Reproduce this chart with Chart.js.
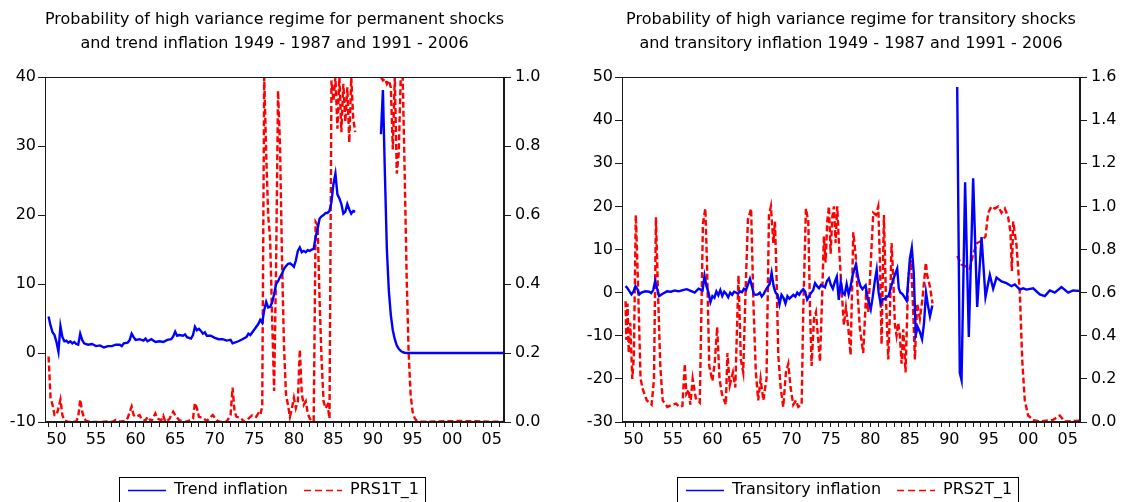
<!DOCTYPE html>
<html>
<head>
<meta charset="utf-8">
<script src="https://cdn.jsdelivr.net/npm/chart.js@4"></script>
<style>
  html, body { margin: 0; padding: 0; background: #fff; }
  #wrap { position: relative; width: 1122px; height: 502px; overflow: hidden; }
  .panel { position: absolute; top: 0; width: 561px; height: 502px; }
  #p1 { left: 0; }
  #p2 { left: 561px; }
</style>
</head>
<body>
<div id="wrap">
  <div class="panel" id="p1"><canvas id="c1" width="561" height="502"></canvas></div>
  <div class="panel" id="p2"><canvas id="c2" width="561" height="502"></canvas></div>
</div>
<script>
// ---------------- DATA ----------------
const title1 = ['Probability of high variance regime for permanent shocks',
                'and trend inflation 1949 - 1987 and 1991 - 2006'];
const title2 = ['Probability of high variance regime for transitory shocks',
                'and transitory inflation 1949 - 1987 and 1991 - 2006'];

const xTickYears = [1950, 1955, 1960, 1965, 1970, 1975, 1980, 1985, 1990, 1995, 2000, 2005];
const xTickLabels = ['50', '55', '60', '65', '70', '75', '80', '85', '90', '95', '00', '05'];
const firstYear = 1949, lastYear = 2006;

// Left panel: Trend inflation (left axis)
const trendYears = [1949.0,1949.25,1949.5,1949.75,1950.0,1950.25,1950.5,1950.75,1951.0,1951.25,1951.5,1951.75,
  1952.0,1952.25,1952.5,1952.75,1953.0,1953.25,1953.5,1953.75,1954.0,1954.5,1955.0,1955.5,1956.0,1956.5,
  1957.0,1957.5,1958.0,1958.25,1958.5,1959.0,1959.25,1959.5,1959.75,1960.0,1960.5,1961.0,1961.25,1961.5,
  1962.0,1962.5,1963.0,1963.5,1964.0,1964.5,1964.75,1965.0,1965.25,1965.5,1966.0,1966.25,1966.5,1967.0,
  1967.25,1967.5,1967.75,1968.0,1968.25,1968.5,1968.75,1969.0,1969.5,1970.0,1970.5,1971.0,1971.5,1972.0,
  1972.25,1972.5,1973.0,1973.5,1974.0,1974.25,1974.5,1975.0,1975.25,1975.5,1975.75,1976.0,1976.25,1976.5,
  1976.75,1977.0,1977.25,1977.5,1977.75,1978.0,1978.25,1978.5,1978.75,1979.0,1979.25,1979.5,1979.75,1980.0,
  1980.25,1980.5,1980.75,1981.0,1981.25,1981.5,1981.75,1982.0,1982.25,1982.5,1982.75,1983.0,1983.25,1983.5,
  1983.75,1984.0,1984.25,1984.5,1984.75,1985.0,1985.25,1985.5,1985.75,1986.0,1986.25,1986.5,1986.75,1987.0,
  1987.25,1987.5,1987.75,
  1989.4,
  1991.0,1991.25,1991.5,1991.75,1992.0,1992.25,1992.5,1992.75,1993.0,1993.25,1993.5,1993.75,1994.0,1994.5,2006.75];
const trendValues = [5.3,4.0,3.0,2.6,1.6,0.2,3.9,2.3,1.7,1.8,1.5,1.7,
  1.4,1.6,1.3,1.2,2.8,1.9,1.4,1.3,1.2,1.3,1.0,1.1,0.8,1.0,
  1.0,1.2,1.2,1.0,1.4,1.5,1.9,2.8,2.3,1.9,2.0,1.8,2.1,1.7,
  2.0,1.6,1.7,1.6,1.9,2.0,2.4,3.1,2.5,2.6,2.5,2.7,2.3,2.1,
  2.6,3.8,3.3,3.5,3.2,2.8,3.0,2.5,2.5,2.2,2.0,2.0,1.8,1.9,
  1.4,1.5,1.7,2.0,2.3,2.8,2.6,3.4,3.8,4.2,4.8,4.4,6.2,7.4,
  6.6,6.7,7.3,8.5,10.0,10.4,11.0,11.5,12.2,12.6,12.9,13.0,12.8,12.5,
  13.4,14.8,15.3,14.6,14.8,14.6,14.9,14.8,15.0,15.1,16.8,18.0,19.5,19.8,
  20.0,20.3,20.3,20.6,21.9,24.5,26.0,23.0,22.4,21.6,20.2,20.5,21.6,20.8,
  20.2,20.6,20.5,
  null,
  31.7,38.1,26.0,15.0,9.0,5.5,3.3,2.0,1.1,0.6,0.3,0.12,0.04,0.0,0.0];

// Left panel: PRS1T_1 (right axis)
const prs1Years = [1949.0,1949.25,1949.5,1949.75,1950.0,1950.25,1950.5,1950.75,1951.0,1951.5,1952.0,1952.5,
  1952.75,1953.0,1953.25,1953.5,1953.75,1954.5,1955.5,1956.5,1957.0,1957.5,1958.0,1958.75,1959.0,1959.5,
  1959.75,1960.0,1960.5,1960.75,1961.25,1961.5,1962.0,1962.5,1962.75,1963.25,1963.5,1963.75,1964.25,1964.75,
  1965.0,1965.5,1966.25,1966.75,1967.25,1967.5,1967.75,1968.0,1968.5,1969.0,1969.5,1969.75,1970.25,1970.75,
  1971.5,1972.0,1972.25,1972.5,1972.75,1973.25,1973.75,1974.25,1974.75,1975.25,1975.5,1975.75,1976.0,1976.25,
  1976.5,1976.75,1977.0,1977.25,1977.5,1977.75,1978.0,1978.25,1978.5,1978.75,1979.0,1979.25,1979.5,1979.75,
  1980.0,1980.25,1980.5,1980.75,1981.0,1981.25,1981.5,1981.75,1982.0,1982.25,1982.5,1982.75,1983.0,1983.25,
  1983.5,1983.75,1984.0,1984.25,1984.5,1984.75,1985.0,1985.25,1985.5,1985.75,1986.0,1986.25,1986.5,1986.75,
  1987.0,1987.25,1987.5,1987.75,
  1989.4,
  1991.0,1991.25,1991.5,1991.75,1992.0,1992.25,1992.5,1992.75,1993.0,1993.25,1993.5,1993.75,1994.0,1994.25,
  1994.5,1994.75,1995.0,1995.25,1995.5,1996.0,1997.0,1999.0,2001.0,2003.0,2005.0,2006.75];
const prs1Values = [0.19,0.07,0.05,0.02,0.02,0.04,0.065,0.02,0.005,0.0,0.0,0.002,
  0.015,0.065,0.03,0.01,0.003,0.0,0.0,0.002,0.0,0.006,0.001,0.004,0.012,0.045,
  0.02,0.015,0.02,0.008,0.004,0.015,0.002,0.025,0.01,0.005,0.018,0.0,0.008,0.03,
  0.02,0.005,0.0,0.004,0.01,0.055,0.04,0.015,0.012,0.003,0.015,0.02,0.005,0.0,
  0.001,0.02,0.1,0.03,0.015,0.012,0.0,0.01,0.02,0.015,0.025,0.02,0.045,1.0,
  0.78,0.6,0.53,0.3,0.09,0.45,0.96,0.8,0.47,0.22,0.08,0.05,0.015,0.04,
  0.07,0.04,0.06,0.21,0.08,0.05,0.06,0.025,0.01,0.005,0.002,0.58,0.57,0.35,
  0.18,0.06,0.04,0.05,0.01,0.99,0.93,1.0,0.85,1.0,0.84,0.98,0.87,0.97,
  0.81,1.0,0.88,0.84,
  null,
  1.0,0.99,0.995,0.98,0.99,0.97,0.79,1.0,0.72,0.78,1.0,1.0,0.72,0.42,
  0.2,0.08,0.03,0.012,0.004,0.001,0.001,0.002,0.003,0.002,0.001,0.0];

// Right panel: Transitory inflation (left axis)
const transYears = [1949.0,1949.25,1949.5,1949.75,1950.0,1950.25,1950.5,1950.75,1951.0,1951.5,1952.0,1952.25,
  1952.5,1952.75,1953.0,1953.25,1953.75,1954.25,1954.75,1955.25,1955.75,1956.25,1956.75,1957.25,1957.75,
  1958.25,1958.75,1959.0,1959.25,1959.5,1959.75,1960.0,1960.25,1960.5,1960.75,1961.0,1961.25,1961.5,1961.75,
  1962.0,1962.25,1962.5,1962.75,1963.25,1963.5,1963.75,1964.0,1964.25,1964.75,1965.0,1965.25,1965.5,1965.75,
  1966.0,1966.25,1966.5,1966.75,1967.25,1967.5,1967.75,1968.0,1968.25,1968.5,1968.75,1969.0,1969.25,1969.5,
  1969.75,1970.25,1970.5,1970.75,1971.0,1971.25,1971.5,1971.75,1972.0,1972.25,1972.5,1972.75,1973.0,1973.25,
  1973.5,1973.75,1974.25,1974.5,1974.75,1975.0,1975.25,1975.5,1975.75,1976.0,1976.25,1976.5,1976.75,1977.0,
  1977.25,1977.5,1977.75,1978.17,1978.5,1978.75,1979.0,1979.4,1979.65,1980.05,1980.3,1980.55,1980.8,1981.05,
  1981.3,1981.55,1981.8,1982.05,1982.3,1982.9,1983.4,1983.6,1983.8,1984.05,1984.3,1984.6,1985.0,1985.25,
  1985.5,1985.75,1986.0,1986.25,1986.55,1986.8,1987.05,1987.3,1987.55,1987.85,
  1989.4,
  1991.0,1991.33,1991.55,1992.0,1992.47,1993.02,1993.53,1994.08,1994.58,1995.13,1995.55,1995.98,1996.61,
  1997.24,1997.88,1998.3,1998.93,1999.35,1999.77,2000.62,2001.46,2002.1,2002.73,2003.36,2004.2,2005.05,
  2005.68,2006.44];
const transValues = [1.5,1.0,0.3,-0.4,0.2,1.5,0.8,-0.4,0.0,0.3,0.2,-0.1,
  0.6,2.7,0.9,-0.8,-0.2,0.3,0.2,0.5,0.3,0.6,0.8,0.4,0.0,
  0.9,0.5,3.9,1.5,0.0,-2.2,-0.8,-1.2,0.3,-0.6,0.6,-0.8,0.2,-0.3,
  -1.1,0.0,-0.5,0.2,-0.2,0.3,0.1,0.9,0.6,3.2,1.5,-0.4,-0.5,-0.4,
  0.0,-0.9,-0.3,0.6,2.0,4.6,1.5,0.0,-0.5,-2.7,-0.5,-1.2,-2.5,-0.8,
  -1.4,-0.5,-0.9,0.0,-0.5,0.3,0.8,0.2,-1.6,-0.8,0.0,0.5,2.2,1.5,
  1.0,1.8,1.2,2.7,3.3,1.8,0.9,2.5,3.7,-1.7,2.5,0.0,-0.5,2.0,
  -0.4,1.5,4.0,6.5,3.0,1.5,0.8,1.7,-1.2,-3.9,-1.0,2.5,5.3,0.0,
  -2.5,-1.5,-1.5,-1.0,-0.8,3.1,5.6,1.0,0.0,-0.3,-1.0,-1.9,7.8,10.4,
  4.5,-9.7,-8.0,-9.0,-10.8,-7.0,0.0,-3.0,-5.5,-3.0,
  null,
  47.7,-18.6,-20.3,25.6,-10.3,26.5,-3.3,12.9,-1.0,4.1,0.9,3.5,2.6,
  2.2,1.5,1.9,0.7,1.0,0.7,1.0,-0.4,-0.8,0.5,0.0,1.3,0.0,
  0.5,0.4];

// Right panel: PRS2T_1 (right axis)
const prs2Years = [1949.0,1949.1,1949.25,1949.4,1949.6,1949.85,1950.05,1950.3,1950.6,1950.9,1951.2,1951.7,
  1952.3,1952.6,1952.85,1953.1,1953.4,1953.7,1954.3,1954.9,1955.4,1955.8,1956.2,1956.5,1956.7,1957.0,
  1957.2,1957.5,1957.9,1958.4,1958.8,1959.1,1959.3,1959.6,1960.0,1960.3,1960.6,1960.9,1961.2,1961.7,
  1961.9,1962.2,1962.6,1962.9,1963.3,1963.6,1963.9,1964.2,1964.5,1964.9,1965.2,1965.5,1965.8,1966.1,
  1966.45,1966.85,1967.16,1967.41,1967.71,1967.92,1968.13,1968.34,1968.64,1968.97,1969.31,1969.61,1969.9,
  1970.24,1970.58,1970.87,1971.3,1971.5,1971.84,1972.14,1972.35,1972.56,1972.86,1973.11,1973.4,1973.62,
  1973.91,1974.12,1974.33,1974.54,1974.76,1974.97,1975.18,1975.39,1975.6,1975.81,1976.06,1976.36,1976.65,
  1976.91,1977.2,1977.5,1977.84,1978.13,1978.38,1978.68,1979.1,1979.44,1979.74,1980.07,1980.37,1980.71,
  1981.0,1981.21,1981.42,1981.72,1981.97,1982.27,1982.48,1982.69,1982.9,1983.11,1983.32,1983.53,1983.74,
  1983.96,1984.17,1984.46,1984.8,1985.14,1985.43,1985.64,1985.93,1986.27,1986.6,1987.03,1987.2,1987.54,1987.87,
  1989.4,
  1991.0,1991.55,1992.18,1992.6,1993.02,1993.53,1994.08,1994.58,1994.92,1995.34,1995.77,1996.19,1996.61,
  1997.03,1997.45,1997.75,1997.92,1998.09,1998.51,1998.93,1999.23,1999.56,1999.98,2000.62,2001.46,2003.15,
  2003.99,2004.63,2005.68,2006.44];
const prs2Values = [0.56,0.38,0.55,0.32,0.46,0.2,0.3,0.96,0.61,0.2,0.15,0.1,
  0.08,0.2,0.95,0.61,0.26,0.1,0.07,0.08,0.085,0.07,0.075,0.27,0.13,0.15,
  0.08,0.2,0.11,0.09,0.92,0.99,0.75,0.26,0.19,0.28,0.44,0.2,0.13,0.08,
  0.32,0.17,0.23,0.16,0.68,0.29,0.23,0.61,0.94,0.99,0.54,0.23,0.1,0.2,
  0.1,0.2,0.96,1.0,0.83,0.93,0.66,0.31,0.16,0.07,0.23,0.27,0.16,
  0.08,0.1,0.07,0.08,0.51,0.99,0.93,0.54,0.26,0.48,0.51,0.38,0.28,
  0.6,0.86,0.74,0.93,1.0,0.78,0.95,1.0,0.83,1.0,0.8,0.61,0.45,
  0.53,0.44,0.31,0.88,0.78,0.6,0.43,0.32,0.58,0.51,0.75,0.97,0.96,
  1.0,0.75,0.36,0.96,0.58,0.29,0.51,0.83,0.67,0.45,0.4,0.46,0.4,
  0.27,0.43,0.23,0.67,0.75,0.51,0.29,0.55,0.48,0.57,0.74,0.68,0.63,0.55,
  null,
  0.77,0.73,0.72,0.71,0.78,0.83,0.84,0.86,0.97,1.0,0.99,1.0,0.97,
  0.99,0.95,0.88,0.7,0.93,0.82,0.6,0.29,0.1,0.03,0.01,0.002,0.01,
  0.03,0.002,0.005,0.006];

// ---------------- RENDERING ----------------
const FONT = '"DejaVu Sans", Verdana, sans-serif';
const FSIZE = 16;
const BLUE = 'rgb(0,0,255)';
const RED = 'rgb(255,0,0)';

function pairs(xs, ys) { return xs.map((x, i) => ({ x: x, y: ys[i] })); }

const frame = {
  id: 'frame',
  afterDatasetsDraw(chart) {
    const a = chart.chartArea, ctx = chart.ctx;
    ctx.save();
    ctx.strokeStyle = '#1a1a1a';
    ctx.lineWidth = 1;
    ctx.strokeRect(Math.round(a.left) + 0.5, Math.round(a.top) + 0.5,
                   Math.round(a.right - a.left) - 1, Math.round(a.bottom - a.top) - 1);
    ctx.restore();
  }
};

// Boxed legend (EViews style) drawn from the datasets' own labels and styles
const boxLegend = {
  id: 'boxLegend',
  afterDraw(chart, args, o) {
    const ctx = chart.ctx;
    ctx.save();
    ctx.font = FSIZE + 'px ' + FONT;
    ctx.textBaseline = 'middle';
    const y = o.top + o.textOffset;
    let x = o.left + o.padLeft;
    chart.data.datasets.forEach((ds, i) => {
      ctx.strokeStyle = ds.borderColor;
      ctx.lineWidth = 1.5;
      ctx.setLineDash(ds.borderDash ? [7, 4] : []);
      ctx.beginPath(); ctx.moveTo(x, y + 0.5); ctx.lineTo(x + o.sample, y + 0.5); ctx.stroke();
      ctx.setLineDash([]);
      x += o.sample + o.gap;
      ctx.fillStyle = '#000';
      ctx.fillText(ds.label, x, y);
      x += ctx.measureText(ds.label).width;
      if (i < chart.data.datasets.length - 1) x += o.itemGap;
    });
    const right = x + o.padRight;
    ctx.strokeStyle = '#000';
    ctx.lineWidth = 1;
    ctx.strokeRect(o.left + 0.5, o.top + 0.5, Math.round(right - o.left), 60);
    ctx.restore();
  }
};

function makeChart(canvasId, cfg) {
  const labelOf = new Map(xTickYears.map((y, i) => [y, xTickLabels[i]]));
  return new Chart(document.getElementById(canvasId), {
    type: 'line',
    data: {
      datasets: [
        { label: cfg.blueLabel, data: pairs(cfg.bx, cfg.by), yAxisID: 'y',
          borderColor: BLUE, backgroundColor: BLUE, borderWidth: 2.4, pointRadius: 0,
          tension: 0, spanGaps: false },
        { label: cfg.redLabel, data: pairs(cfg.rx, cfg.ry), yAxisID: 'y1',
          borderColor: RED, backgroundColor: RED, borderWidth: 2.4, borderDash: [6, 3],
          pointRadius: 0, tension: 0, spanGaps: false }
      ]
    },
    options: {
      responsive: false,
      animation: false,
      events: [],
      layout: { padding: 0 },
      scales: {
        x: {
          type: 'linear', min: 1948.55, max: 2006.55,
          afterFit(s) { s.height = 80; },
          afterBuildTicks(s) {
            const t = [];
            for (let yr = firstYear; yr <= lastYear; yr++) t.push({ value: yr });
            s.ticks = t;
          },
          border: { display: true, color: '#1a1a1a', width: 1 },
          grid: { display: true, drawOnChartArea: false, drawTicks: true, tickLength: 5, color: '#1a1a1a' },
          ticks: {
            autoSkip: false, maxRotation: 0, minRotation: 0,
            padding: 3, color: '#000', font: { family: FONT, size: FSIZE },
            callback: (v) => labelOf.has(v) ? labelOf.get(v) : ''
          }
        },
        y: {
          position: 'left', min: cfg.yMin, max: cfg.yMax,
          afterFit(s) { s.width = cfg.leftW; },
          border: { display: true, color: '#1a1a1a', width: 1 },
          grid: { display: true, drawOnChartArea: false, drawTicks: true, tickLength: 7, color: '#1a1a1a' },
          ticks: { stepSize: 10, padding: 2, color: '#000', font: { family: FONT, size: FSIZE } }
        },
        y1: {
          position: 'right', min: 0, max: cfg.y1Max,
          afterFit(s) { s.width = cfg.rightW; },
          border: { display: true, color: '#1a1a1a', width: 1 },
          grid: { display: true, drawOnChartArea: false, drawTicks: true, tickLength: 7, color: '#1a1a1a' },
          ticks: { stepSize: 0.2, padding: 4, color: '#000', font: { family: FONT, size: FSIZE },
                   callback: (v) => Number(v).toFixed(1) }
        }
      },
      plugins: {
        title: {
          display: true, text: cfg.title, fullSize: false, color: '#000',
          font: { family: FONT, size: FSIZE, weight: 'normal', lineHeight: 1.55 },
          padding: { top: 7, bottom: 20.4 }
        },
        legend: { display: false },
        tooltip: { enabled: false },
        boxLegend: cfg.legendBox
      }
    },
    plugins: [frame, boxLegend]
  });
}

makeChart('c1', {
  title: title1, blueLabel: 'Trend inflation', redLabel: 'PRS1T_1',
  bx: trendYears, by: trendValues, rx: prs1Years, ry: prs1Values,
  yMin: -10, yMax: 40, y1Max: 1.0, leftW: 45, rightW: 57,
  legendBox: { left: 119, top: 477, textOffset: 13, padLeft: 9, sample: 38, gap: 8, itemGap: 16, padRight: 6 }
});
makeChart('c2', {
  title: title2, blueLabel: 'Transitory inflation', redLabel: 'PRS2T_1',
  bx: transYears, by: transValues, rx: prs2Years, ry: prs2Values,
  yMin: -30, yMax: 50, y1Max: 1.6, leftW: 61, rightW: 42,
  legendBox: { left: 116, top: 477, textOffset: 13, padLeft: 9, sample: 38, gap: 8, itemGap: 16, padRight: 6 }
});
</script>
</body>
</html>
